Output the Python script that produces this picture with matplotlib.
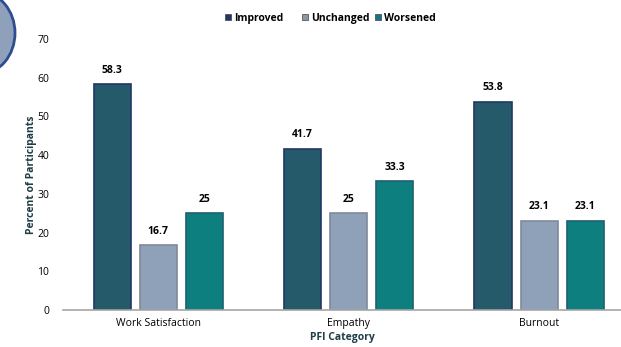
import matplotlib.pyplot as plt
import numpy as np
from matplotlib.patches import Ellipse, Rectangle

categories = ['Work Satisfaction', 'Empathy', 'Burnout']
improved = [58.3, 41.7, 53.8]
unchanged = [16.7, 25, 23.1]
worsened = [25, 33.3, 23.1]
labels = ['Improved', 'Unchanged', 'Worsened']

plt.rcParams['font.family'] = ['Open Sans', 'DejaVu Sans']

W, H = 621, 347
fig = plt.figure(figsize=(W / 100, H / 100), dpi=100)
ax = fig.add_axes([63 / W, 1 - 310 / H, 1 - 63 / W, (310 - 39) / H])

x = np.arange(len(categories))
w = 0.195
step = 0.242
series = [improved, unchanged, worsened]
faces = ['#245A6A', '#8EA1B8', '#0E7F7F']
edges = ['#1F3864', '#7F8A99', '#1F5F6F']
legend_faces = ['#1F3864', '#8E97A6', '#17728A']

for i, (vals, fc, ec) in enumerate(zip(series, faces, edges)):
    bars = ax.bar(x + (i - 1) * step, vals, w, color=fc, edgecolor=ec, linewidth=1.2)
    for b, v in zip(bars, vals):
        ax.text(b.get_x() + b.get_width() / 2, v + 2.2, f'{v:g}', ha='center', va='bottom',
                fontsize=7.5, fontweight='bold', color='black')

ax.set_xlim(-0.5, 2.43)
ax.set_ylim(0, 70)
ax.set_yticks(range(0, 71, 10))
ax.set_xticks(x)
ax.set_xticklabels(categories, fontsize=7.5)
ax.tick_params(axis='both', length=0, labelsize=7.5, colors='black')
ax.tick_params(axis='y', pad=10)
ax.tick_params(axis='x', pad=6)
for s in ['top', 'right', 'left']:
    ax.spines[s].set_visible(False)
ax.spines['bottom'].set_color('#A6A6A6')
ax.spines['bottom'].set_linewidth(1.2)

ax.set_ylabel('Percent of Participants', fontsize=7.5, fontweight='bold', color='#1F3D45', labelpad=0)
ax.set_xlabel('PFI Category', fontsize=7.5, fontweight='bold', color='#1F3D45', labelpad=2)

# legend drawn by hand so the labels share one baseline
leg_x = [225, 302, 375]
for lx, lab, c in zip(leg_x, labels, legend_faces):
    fig.patches.append(Rectangle((lx / W, 1 - 20 / H), 6 / W, 6 / H, transform=fig.transFigure,
                                 facecolor=c, edgecolor='#404040', linewidth=0.5))
    fig.text((lx + 9) / W, 1 - 17 / H, lab, fontsize=7.5, fontweight='bold',
             ha='left', va='center_baseline')

ell = Ellipse((-20 / W, 1 - 33 / H), 70 / W, 82 / H, transform=fig.transFigure,
              facecolor='#8FA1BA', edgecolor='#2E4D8F', linewidth=2, clip_on=False)
fig.patches.append(ell)

fig.savefig('out.png', dpi=100)
